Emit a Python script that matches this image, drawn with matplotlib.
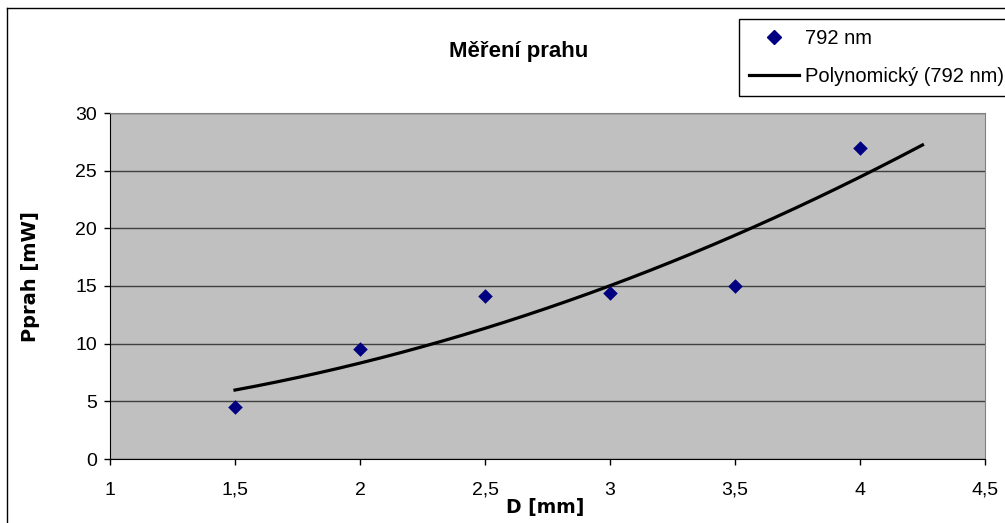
import numpy as np
import matplotlib
matplotlib.use('Agg')
import matplotlib.pyplot as plt
from matplotlib.lines import Line2D

# measured threshold power vs. diameter
d_mm = [1.5, 2.0, 2.5, 3.0, 3.5, 4.0]
p_mw = [4.5, 9.5, 14.1, 14.4, 15.0, 27.0]

x_ticks = [1, 1.5, 2, 2.5, 3, 3.5, 4, 4.5]
x_tick_labels = ["1", "1,5", "2", "2,5", "3", "3,5", "4", "4,5"]
y_ticks = [0, 5, 10, 15, 20, 25, 30]

title = "Měření prahu"
series_label = "792 nm"
trend_label = "Polynomický (792 nm)"

plt.rcParams['font.family'] = ['Liberation Sans', 'DejaVu Sans']

W, H = 1005, 523
fig = plt.figure(figsize=(W / 100, H / 100), dpi=100)
fig.patch.set_facecolor('white')

# plot area in pixels
left, right, top, bottom = 110, 985, 113, 459
ax = fig.add_axes([left / W, 1 - bottom / H, (right - left) / W, (bottom - top) / H])
ax.set_facecolor('#C0C0C0')

# second order trendline, extended forward by 0.25
coef = np.polyfit(d_mm, p_mw, 2)
xt = np.linspace(min(d_mm), max(d_mm) + 0.25, 200)
ax.plot(xt, np.polyval(coef, xt), color='black', lw=2.3, zorder=3)

ax.scatter(d_mm, p_mw, marker='D', s=55, color='#000080', zorder=4, linewidths=0)

ax.set_xlim(1, 4.5)
ax.set_ylim(0, 30)
ax.set_xticks(x_ticks)
ax.set_xticklabels(x_tick_labels)
ax.set_yticks(y_ticks)
ax.yaxis.grid(True, color='#404040', lw=1)
ax.set_axisbelow(True)
ax.tick_params(direction='out', length=4.5, width=1, labelsize=14, color='black')
ax.tick_params(axis='y', pad=5)
ax.tick_params(axis='x', pad=12)
for s in ['top', 'right']:
    ax.spines[s].set_color('#808080')
for s in ['left', 'bottom']:
    ax.spines[s].set_color('black')

fig.text(519 / W, 1 - 52 / H, title, ha='center', va='center', fontsize=16, fontweight='bold')
fig.text(545 / W, 1 - 508 / H, "D [mm]", ha='center', va='center', fontsize=13.5,
         fontweight='bold', family='DejaVu Sans')
fig.text(31 / W, 1 - 277 / H, "Pprah [mW]", ha='center', va='center', rotation=90,
         fontsize=14, fontweight='bold', family='DejaVu Sans')

# chart border
fig.add_artist(Line2D([7 / W, 7 / W], [0, 1 - 8 / H], color='black', lw=1))
fig.add_artist(Line2D([7 / W, 1], [1 - 8 / H, 1 - 8 / H], color='black', lw=1))

handles = [Line2D([], [], ls='none', marker='D', color='#000080', markersize=7),
           Line2D([], [], color='black', lw=2.3)]
leg = fig.legend(handles, [series_label, trend_label], loc='upper left',
                 bbox_to_anchor=(739 / W, 1 - 19 / H), fontsize=14.5,
                 frameon=True, fancybox=False, edgecolor='black', framealpha=1,
                 borderaxespad=0, borderpad=0.5, labelspacing=0.95,
                 handlelength=2.5, handletextpad=0.3)
leg.get_frame().set_linewidth(1)

fig.savefig('out.png', dpi=100)
